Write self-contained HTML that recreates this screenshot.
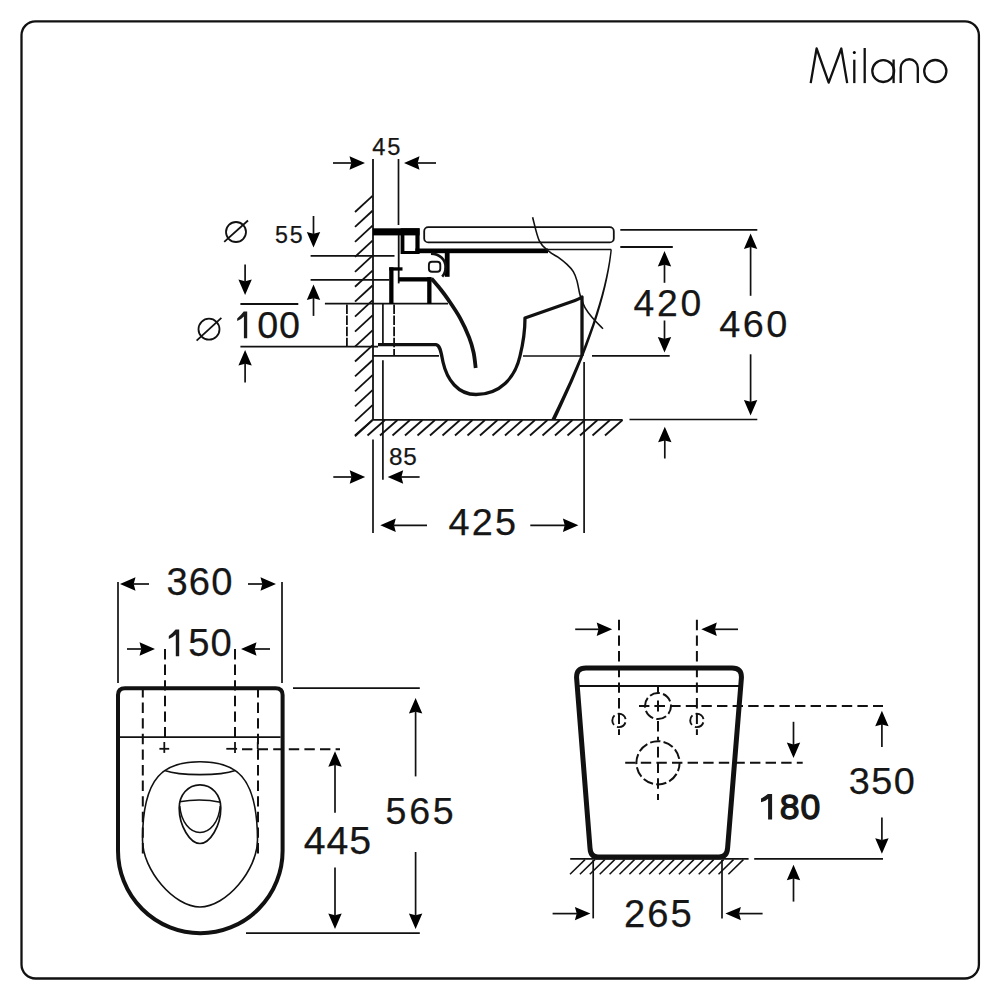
<!DOCTYPE html>
<html><head><meta charset="utf-8"><style>
html,body{margin:0;padding:0;background:#fff;}
body{width:1000px;height:1000px;overflow:hidden;}
svg{display:block;}
text{font-family:"Liberation Sans", sans-serif;fill:#161616;stroke:#161616;stroke-width:0.25px;}
</style></head><body>
<svg width="1000" height="1000" viewBox="0 0 1000 1000" stroke="#111" fill="none" stroke-linecap="butt">
<rect x="21.5" y="21.3" width="957.4" height="957.2" rx="14" ry="14" stroke-width="2.3" fill="none"/>
<path d="M810.7 83.1 L816.6 48.5 L828.7 82.6 L841.3 48.5 L847.2 83.1" stroke-width="2.3" fill="none" stroke-linejoin="round"/>
<line x1="854.3" y1="59.7" x2="854.3" y2="83.1" stroke-width="2.3"/>
<circle cx="854.3" cy="52.6" r="1.5" fill="#000" stroke="none"/>
<line x1="864.7" y1="48" x2="864.7" y2="83.1" stroke-width="2.3"/>
<circle cx="883.2" cy="71.1" r="10.9" stroke-width="2.3" fill="none"/>
<line x1="893.6" y1="59.5" x2="893.6" y2="83.1" stroke-width="2.3"/>
<path d="M900.7 83.1 L900.7 67.8 A8.5 8.5 0 0 1 917.8 67.8 L917.8 83.1" stroke-width="2.3" fill="none"/>
<circle cx="935.3" cy="71.1" r="11.1" stroke-width="2.3" fill="none"/>
<line x1="373" y1="159" x2="373" y2="420" stroke-width="1.8"/>
<line x1="373" y1="439.5" x2="373" y2="533.1" stroke-width="1.7"/>
<line x1="398.5" y1="159" x2="398.5" y2="225" stroke-width="1.7"/>
<path d="M365 163 L349.5 156.3 L351.3 163 L349.5 169.7 Z" fill="#000" stroke="none"/>
<line x1="333" y1="163" x2="352.3" y2="163" stroke-width="1.7"/>
<path d="M404 163 L419.5 156.3 L417.7 163 L419.5 169.7 Z" fill="#000" stroke="none"/>
<line x1="436" y1="163" x2="416.7" y2="163" stroke-width="1.7"/>
<text x="372.36" y="154.57" font-size="23.65" letter-spacing="1.63">45</text>
<line x1="355" y1="212.0" x2="372.5" y2="195.8" stroke-width="1.8"/>
<line x1="355" y1="226.95" x2="372.5" y2="210.75" stroke-width="1.8"/>
<line x1="355" y1="241.9" x2="372.5" y2="225.7" stroke-width="1.8"/>
<line x1="355" y1="256.85" x2="372.5" y2="240.65" stroke-width="1.8"/>
<line x1="355" y1="271.8" x2="372.5" y2="255.6" stroke-width="1.8"/>
<line x1="355" y1="286.75" x2="372.5" y2="270.55" stroke-width="1.8"/>
<line x1="355" y1="301.7" x2="372.5" y2="285.5" stroke-width="1.8"/>
<line x1="355" y1="316.65" x2="372.5" y2="300.45" stroke-width="1.8"/>
<line x1="355" y1="331.6" x2="372.5" y2="315.4" stroke-width="1.8"/>
<line x1="355" y1="346.55" x2="372.5" y2="330.35" stroke-width="1.8"/>
<line x1="355" y1="361.5" x2="372.5" y2="345.3" stroke-width="1.8"/>
<line x1="355" y1="376.45" x2="372.5" y2="360.25" stroke-width="1.8"/>
<line x1="355" y1="391.4" x2="372.5" y2="375.2" stroke-width="1.8"/>
<line x1="355" y1="406.35" x2="372.5" y2="390.15" stroke-width="1.8"/>
<line x1="355" y1="421.3" x2="372.5" y2="405.1" stroke-width="1.8"/>
<line x1="355" y1="436.25" x2="372.5" y2="420.05" stroke-width="1.8"/>
<line x1="373" y1="419.8" x2="622.6" y2="419.8" stroke-width="1.8"/>
<line x1="355.0" y1="435.5" x2="372.5" y2="420" stroke-width="1.8"/>
<line x1="367.5" y1="435.5" x2="385.0" y2="420" stroke-width="1.8"/>
<line x1="380.0" y1="435.5" x2="397.5" y2="420" stroke-width="1.8"/>
<line x1="392.5" y1="435.5" x2="410.0" y2="420" stroke-width="1.8"/>
<line x1="405.0" y1="435.5" x2="422.5" y2="420" stroke-width="1.8"/>
<line x1="417.5" y1="435.5" x2="435.0" y2="420" stroke-width="1.8"/>
<line x1="430.0" y1="435.5" x2="447.5" y2="420" stroke-width="1.8"/>
<line x1="442.5" y1="435.5" x2="460.0" y2="420" stroke-width="1.8"/>
<line x1="455.0" y1="435.5" x2="472.5" y2="420" stroke-width="1.8"/>
<line x1="467.5" y1="435.5" x2="485.0" y2="420" stroke-width="1.8"/>
<line x1="480.0" y1="435.5" x2="497.5" y2="420" stroke-width="1.8"/>
<line x1="492.5" y1="435.5" x2="510.0" y2="420" stroke-width="1.8"/>
<line x1="505.0" y1="435.5" x2="522.5" y2="420" stroke-width="1.8"/>
<line x1="517.5" y1="435.5" x2="535.0" y2="420" stroke-width="1.8"/>
<line x1="530.0" y1="435.5" x2="547.5" y2="420" stroke-width="1.8"/>
<line x1="542.5" y1="435.5" x2="560.0" y2="420" stroke-width="1.8"/>
<line x1="555.0" y1="435.5" x2="572.5" y2="420" stroke-width="1.8"/>
<line x1="567.5" y1="435.5" x2="585.0" y2="420" stroke-width="1.8"/>
<line x1="580.0" y1="435.5" x2="597.5" y2="420" stroke-width="1.8"/>
<line x1="592.5" y1="435.5" x2="610.0" y2="420" stroke-width="1.8"/>
<line x1="605.0" y1="435.5" x2="622.5" y2="420" stroke-width="1.8"/>
<line x1="629.5" y1="419.5" x2="757.3" y2="419.5" stroke-width="1.7"/>
<rect x="424.2" y="227.2" width="189.6" height="15.2" rx="4" ry="4" stroke-width="1.8" fill="none"/>
<rect x="373" y="228.3" width="46.60" height="7.10" fill="#000" stroke="none"/>
<path d="M400.6 228.3 H419.6 V254 H400.6 Z M404.4 233 V251.1 H415.4 V233 Z" fill="#000" stroke="none" fill-rule="evenodd"/>
<rect x="415.4" y="248.5" width="132.60" height="4.70" fill="#000" stroke="none"/>
<line x1="547" y1="249.5" x2="611.2" y2="249.5" stroke-width="1.7"/>
<line x1="398.7" y1="235" x2="398.7" y2="283.4" stroke-width="1.8"/>
<line x1="310.6" y1="255.9" x2="394.5" y2="255.9" stroke-width="1.7"/>
<line x1="310.6" y1="279.9" x2="389.2" y2="279.9" stroke-width="1.7"/>
<line x1="240.4" y1="304" x2="298.3" y2="304" stroke-width="1.8"/>
<line x1="324.9" y1="303.7" x2="448" y2="303.7" stroke-width="1.8"/>
<line x1="240.4" y1="346.7" x2="378" y2="346.7" stroke-width="1.8"/>
<line x1="372.8" y1="355.9" x2="439" y2="355.9" stroke-width="1.7"/>
<line x1="523" y1="356" x2="582" y2="356" stroke-width="1.7"/>
<line x1="592" y1="355.8" x2="669.7" y2="355.8" stroke-width="1.7"/>
<rect x="389.2" y="267.3" width="13.30" height="3.30" fill="#000" stroke="none"/>
<rect x="389.2" y="267.3" width="4.30" height="36.50" fill="#000" stroke="none"/>
<rect x="398.7" y="277.2" width="32.80" height="4.30" fill="#000" stroke="none"/>
<rect x="427.2" y="277.2" width="4.30" height="26.60" fill="#000" stroke="none"/>
<rect x="444.8" y="253" width="4.80" height="23.80" fill="#000" stroke="none"/>
<path d="M431 253.6 C440 253.8 445.6 260 445.6 267 C445.6 271 444.6 274 442.2 276.6" stroke-width="2.6" fill="none"/>
<rect x="428.9" y="261.8" width="11.4" height="10" rx="3" ry="3" stroke-width="1.9" fill="none"/>
<path d="M431.5 278.5 C432.92 280.18 437.18 285.03 440 288.6 C442.82 292.17 445.05 294.98 448.4 299.9 C451.75 304.82 456.63 311.82 460.1 318.1 C463.57 324.38 466.95 331.87 469.2 337.6 C471.45 343.33 472.52 347.43 473.6 352.5 C474.68 357.57 475.35 365.42 475.7 368" stroke-width="3.8" fill="none"/>
<path d="M378 344.7 L436 344.7 C440 345 441 352 443 362 C447 380 458 394.5 476 394.5 C500 394.5 515 378 520 356 C523.5 342 525 328 525 318 L575 300.5 Q579 299 582 297 L582 356" stroke-width="3.3" fill="none" stroke-linejoin="round"/>
<line x1="346.9" y1="303.5" x2="346.9" y2="346.7" stroke-width="1.8" stroke-dasharray="9.5 1.6" stroke-dashoffset="-1"/>
<line x1="394.1" y1="303.5" x2="394.1" y2="355.5" stroke-width="1.8" stroke-dasharray="9.5 1.6" stroke-dashoffset="-1"/>
<line x1="382.9" y1="303.5" x2="382.9" y2="344" stroke-width="1.7"/>
<line x1="382.9" y1="360.2" x2="382.9" y2="479.7" stroke-width="1.7"/>
<path d="M610.5 249.5 L611.9 249.5 C607.9 290 591.5 345 555.4 419.8 L551.2 419.8 C588.5 345 606.1 290 610.5 249.5 Z" fill="#111" stroke="none"/>
<path d="M532.6 217.2 C533.72 221.13 536.57 235.10 539.3 240.8 C542.03 246.50 545.88 248.67 549 251.4 C552.12 254.13 555.00 255.03 558 257.2 C561.00 259.37 564.45 262.00 567 264.4 C569.55 266.80 571.65 268.90 573.3 271.6 C574.95 274.30 575.85 277.00 576.9 280.6 C577.95 284.20 578.85 290.20 579.6 293.2 C580.35 296.20 580.50 296.20 581.4 298.6 C582.30 301.00 583.20 304.45 585 307.6 C586.80 310.75 589.20 313.97 592.2 317.5 C595.20 321.03 601.20 326.92 603 328.8" stroke-width="1.6" fill="none"/>
<circle cx="236" cy="232" r="10" stroke-width="1.8" fill="none"/>
<line x1="224.2" y1="241.8" x2="248" y2="220.5" stroke-width="1.8"/>
<circle cx="209" cy="329.2" r="10.5" stroke-width="1.8" fill="none"/>
<line x1="196.6" y1="340.6" x2="221.4" y2="317.8" stroke-width="1.8"/>
<text x="274.97" y="243.47" font-size="23.22" letter-spacing="1.78">55</text>
<path d="M313.5 247.5 L306.8 232.0 L313.5 233.8 L320.2 232.0 Z" fill="#000" stroke="none"/>
<line x1="313.5" y1="216" x2="313.5" y2="234.8" stroke-width="1.7"/>
<path d="M313.5 284.6 L306.8 300.1 L313.5 298.3 L320.2 300.1 Z" fill="#000" stroke="none"/>
<line x1="313.5" y1="315.9" x2="313.5" y2="297.3" stroke-width="1.7"/>
<path d="M245.1 295 L238.4 279.5 L245.1 281.3 L251.79999999999998 279.5 Z" fill="#000" stroke="none"/>
<line x1="245.1" y1="264.6" x2="245.1" y2="282.3" stroke-width="1.7"/>
<path d="M245.1 350.1 L238.4 365.6 L245.1 363.8 L251.79999999999998 365.6 Z" fill="#000" stroke="none"/>
<line x1="245.1" y1="382.4" x2="245.1" y2="362.8" stroke-width="1.7"/>
<text x="257.13" y="337.83" font-size="37.71" letter-spacing="1.00">00</text>
<path d="M247.20 311.50 L247.20 338.20 L243.90 338.20 L243.90 316.57 Q241.35 319.54 237.20 320.90 L237.20 318.60 Q240.55 315.58 243.70 311.50 Z" fill="#1a1a1a" stroke="none"/>
<line x1="620.3" y1="229.8" x2="757.3" y2="229.8" stroke-width="1.8"/>
<line x1="620.3" y1="247.0" x2="672.8" y2="247.0" stroke-width="1.8"/>
<path d="M664.5 251.1 L657.8 266.6 L664.5 264.8 L671.2 266.6 Z" fill="#000" stroke="none"/>
<line x1="664.5" y1="282.8" x2="664.5" y2="263.8" stroke-width="1.7"/>
<path d="M664.5 352.5 L657.8 337.0 L664.5 338.8 L671.2 337.0 Z" fill="#000" stroke="none"/>
<line x1="664.5" y1="320.5" x2="664.5" y2="339.8" stroke-width="1.7"/>
<text x="633.54" y="315.84" font-size="37.29" letter-spacing="2.75">420</text>
<path d="M750.6 233.4 L743.9 248.9 L750.6 247.1 L757.3000000000001 248.9 Z" fill="#000" stroke="none"/>
<line x1="750.6" y1="295.8" x2="750.6" y2="246.1" stroke-width="1.7"/>
<path d="M750.6 415.4 L743.9 399.9 L750.6 401.7 L757.3000000000001 399.9 Z" fill="#000" stroke="none"/>
<line x1="750.6" y1="354.3" x2="750.6" y2="402.7" stroke-width="1.7"/>
<text x="719.33" y="337.13" font-size="37.85" letter-spacing="2.40">460</text>
<path d="M664.8 426.8 L658.0999999999999 442.3 L664.8 440.5 L671.5 442.3 Z" fill="#000" stroke="none"/>
<line x1="664.8" y1="458.5" x2="664.8" y2="439.5" stroke-width="1.7"/>
<path d="M365.2 477 L349.7 470.3 L351.5 477 L349.7 483.7 Z" fill="#000" stroke="none"/>
<line x1="333.3" y1="477" x2="352.5" y2="477" stroke-width="1.7"/>
<path d="M387.7 477 L403.2 470.3 L401.4 477 L403.2 483.7 Z" fill="#000" stroke="none"/>
<line x1="419.6" y1="477" x2="400.4" y2="477" stroke-width="1.7"/>
<text x="389.04" y="465.26" font-size="24.29" letter-spacing="0.65">85</text>
<line x1="584.1" y1="362" x2="584.1" y2="533.1" stroke-width="1.7"/>
<path d="M380.3 525.3 L395.8 518.5999999999999 L394.0 525.3 L395.8 532.0 Z" fill="#000" stroke="none"/>
<line x1="427" y1="525.3" x2="393.0" y2="525.3" stroke-width="1.7"/>
<path d="M578.4 525.3 L562.9 518.5999999999999 L564.6999999999999 525.3 L562.9 532.0 Z" fill="#000" stroke="none"/>
<line x1="530.3" y1="525.3" x2="565.6999999999999" y2="525.3" stroke-width="1.7"/>
<text x="448.43" y="535.33" font-size="37.85" letter-spacing="2.20">425</text>
<line x1="118" y1="582" x2="118" y2="683" stroke-width="1.7"/>
<line x1="282" y1="582" x2="282" y2="683" stroke-width="1.7"/>
<path d="M120 584 L135.5 577.3 L133.7 584 L135.5 590.7 Z" fill="#000" stroke="none"/>
<line x1="149" y1="584" x2="132.7" y2="584" stroke-width="1.7"/>
<path d="M276 584 L260.5 577.3 L262.3 584 L260.5 590.7 Z" fill="#000" stroke="none"/>
<line x1="248" y1="584" x2="263.3" y2="584" stroke-width="1.7"/>
<text x="166.45" y="594.53" font-size="38.14" letter-spacing="1.16">360</text>
<path d="M155 649 L139.5 642.3 L141.3 649 L139.5 655.7 Z" fill="#000" stroke="none"/>
<line x1="127" y1="649" x2="142.3" y2="649" stroke-width="1.7"/>
<path d="M241 649 L256.5 642.3 L254.7 649 L256.5 655.7 Z" fill="#000" stroke="none"/>
<line x1="270" y1="649" x2="253.7" y2="649" stroke-width="1.7"/>
<text x="188.27" y="656.13" font-size="38.14" letter-spacing="1.00">50</text>
<path d="M179.20 629.40 L179.20 656.20 L175.80 656.20 L175.80 634.49 Q173.10 637.50 168.80 638.90 L168.80 636.00 Q172.30 633.24 175.60 629.40 Z" fill="#1a1a1a" stroke="none"/>
<line x1="165" y1="649" x2="165" y2="742" stroke-width="2.0" stroke-dasharray="10.4 5.2" stroke-dashoffset="0"/>
<line x1="235" y1="649" x2="235" y2="742" stroke-width="2.0" stroke-dasharray="10.4 5.2" stroke-dashoffset="0"/>
<path d="M118 850.7 L118 695 Q118 688.2 125 688.2 L275.6 688.2 Q282.6 688.2 282.6 695 L282.6 850.7 A82.3 82.5 0 0 1 118 850.7 Z" stroke-width="4.0" fill="none"/>
<line x1="119" y1="737.2" x2="280.6" y2="737.2" stroke-width="1.8"/>
<line x1="142.8" y1="690" x2="142.8" y2="857.6" stroke-width="2.0" stroke-dasharray="10.4 5.2" stroke-dashoffset="3"/>
<line x1="258" y1="690" x2="258" y2="857.6" stroke-width="2.0" stroke-dasharray="10.4 5.2" stroke-dashoffset="3"/>
<line x1="159.4" y1="748.8" x2="169.2" y2="748.8" stroke-width="1.8"/>
<line x1="164.3" y1="742" x2="164.3" y2="752.9" stroke-width="1.8"/>
<line x1="226.3" y1="748.8" x2="237.1" y2="748.8" stroke-width="1.8"/>
<line x1="235" y1="742" x2="235" y2="752.9" stroke-width="1.8"/>
<line x1="242" y1="749.2" x2="340" y2="749.2" stroke-width="2.0" stroke-dasharray="10.4 5.2" stroke-dashoffset="0"/>
<line x1="257.7" y1="742" x2="257.7" y2="749.2" stroke-width="1.7"/>
<path d="M200 761.7 C235 761.7 257.5 775 257.5 840 C257.5 870 226 907 200 907 C174 907 142.5 870 142.5 840 C142.5 775 165 761.7 200 761.7 Z" stroke-width="1.6" fill="none"/>
<path d="M164.6 770.5 C180 776 220 776 235.4 770.5" stroke-width="1.6" fill="none"/>
<path d="M200 784.8 C212 784.8 220.8 795 220.8 808 C220.8 826 210 843.5 200 843.5 C190 843.5 179.2 826 179.2 808 C179.2 795 188 784.8 200 784.8 Z" stroke-width="1.7" fill="none"/>
<path d="M179.5 801.8 C192 799.5 208 799.5 220.5 802.3" stroke-width="1.5" fill="none"/>
<path d="M179.8 806 C181 822 190 832.4 200 832.4 C210 832.4 219 822 220.2 806" stroke-width="1.5" fill="none"/>
<line x1="293" y1="688.2" x2="419.8" y2="688.2" stroke-width="1.8"/>
<line x1="246" y1="933.2" x2="419.8" y2="933.2" stroke-width="1.8"/>
<path d="M335 751.2 L328.3 766.7 L335 764.9000000000001 L341.7 766.7 Z" fill="#000" stroke="none"/>
<line x1="335" y1="812.8" x2="335" y2="763.9000000000001" stroke-width="1.7"/>
<path d="M335 929 L328.3 913.5 L335 915.3 L341.7 913.5 Z" fill="#000" stroke="none"/>
<line x1="335" y1="867.4" x2="335" y2="916.3" stroke-width="1.7"/>
<text x="303.80" y="853.92" font-size="39.27" letter-spacing="0.92">445</text>
<path d="M415.6 698 L408.90000000000003 713.5 L415.6 711.7 L422.3 713.5 Z" fill="#000" stroke="none"/>
<line x1="415.6" y1="776.4" x2="415.6" y2="710.7" stroke-width="1.7"/>
<path d="M415.6 929 L408.90000000000003 913.5 L415.6 915.3 L422.3 913.5 Z" fill="#000" stroke="none"/>
<line x1="415.6" y1="852" x2="415.6" y2="916.3" stroke-width="1.7"/>
<text x="385.60" y="824.23" font-size="37.57" letter-spacing="2.65">565</text>
<line x1="619" y1="619.8" x2="619" y2="735" stroke-width="2.0" stroke-dasharray="10.4 5.25" stroke-dashoffset="0"/>
<line x1="696.9" y1="619.8" x2="696.9" y2="735" stroke-width="2.0" stroke-dasharray="10.4 5.25" stroke-dashoffset="0"/>
<path d="M612.2 629.3 L596.7 622.5999999999999 L598.5 629.3 L596.7 636.0 Z" fill="#000" stroke="none"/>
<line x1="575.2" y1="629.3" x2="599.5" y2="629.3" stroke-width="1.7"/>
<path d="M701.3 629.3 L716.8 622.5999999999999 L715.0 629.3 L716.8 636.0 Z" fill="#000" stroke="none"/>
<line x1="738" y1="629.3" x2="714.0" y2="629.3" stroke-width="1.7"/>
<path d="M586 668 L732 668 Q742 668 741.4 678 L727.6 848 Q727 857 719 857 L598 857 Q590.5 857 590 848 L576.6 678 Q576 668 586 668 Z" stroke-width="5.0" fill="none"/>
<line x1="579" y1="686" x2="739" y2="686" stroke-width="1.8"/>
<circle cx="658" cy="706" r="13" stroke-width="2" fill="none" stroke-dasharray="10.4 3.2" stroke-dashoffset="2"/>
<circle cx="658" cy="762.8" r="21.6" stroke-width="2" fill="none" stroke-dasharray="10.4 3.2" stroke-dashoffset="2"/>
<circle cx="619" cy="720.4" r="6.7" stroke-width="1.9" fill="none" stroke-dasharray="10.5 3.5" stroke-dashoffset="-2"/>
<circle cx="696.9" cy="720.4" r="6.7" stroke-width="1.9" fill="none" stroke-dasharray="10.5 3.5" stroke-dashoffset="-2"/>
<line x1="658" y1="686" x2="658" y2="693.2" stroke-width="2.0"/>
<line x1="654.6" y1="706" x2="665" y2="706" stroke-width="2.0"/>
<line x1="658" y1="700.4" x2="658" y2="711.4" stroke-width="2.0"/>
<line x1="658" y1="746.8" x2="658" y2="800" stroke-width="2.0" stroke-dasharray="10.6 5.1" stroke-dashoffset="0"/>
<line x1="658" y1="720" x2="658" y2="740.4" stroke-width="2.0" stroke-dasharray="10.6 5.1" stroke-dashoffset="-1"/>
<line x1="639" y1="706" x2="883" y2="706" stroke-width="2.0" stroke-dasharray="10.4 5.2" stroke-dashoffset="0"/>
<line x1="625.2" y1="762.8" x2="802.7" y2="762.8" stroke-width="2.0" stroke-dasharray="10.4 5.2" stroke-dashoffset="0"/>
<line x1="570.2" y1="858.8" x2="748.6" y2="858.8" stroke-width="1.8"/>
<line x1="754.2" y1="858.9" x2="883" y2="858.9" stroke-width="1.8"/>
<line x1="570.0" y1="874.2" x2="585.0" y2="859.6" stroke-width="1.5"/>
<line x1="579.9" y1="874.2" x2="594.9" y2="859.6" stroke-width="1.5"/>
<line x1="589.8" y1="874.2" x2="604.8" y2="859.6" stroke-width="1.5"/>
<line x1="599.7" y1="874.2" x2="614.7" y2="859.6" stroke-width="1.5"/>
<line x1="609.6" y1="874.2" x2="624.6" y2="859.6" stroke-width="1.5"/>
<line x1="619.5" y1="874.2" x2="634.5" y2="859.6" stroke-width="1.5"/>
<line x1="629.4" y1="874.2" x2="644.4" y2="859.6" stroke-width="1.5"/>
<line x1="639.3" y1="874.2" x2="654.3" y2="859.6" stroke-width="1.5"/>
<line x1="649.2" y1="874.2" x2="664.2" y2="859.6" stroke-width="1.5"/>
<line x1="659.1" y1="874.2" x2="674.1" y2="859.6" stroke-width="1.5"/>
<line x1="669.0" y1="874.2" x2="684.0" y2="859.6" stroke-width="1.5"/>
<line x1="678.9" y1="874.2" x2="693.9" y2="859.6" stroke-width="1.5"/>
<line x1="688.8" y1="874.2" x2="703.8" y2="859.6" stroke-width="1.5"/>
<line x1="698.7" y1="874.2" x2="713.7" y2="859.6" stroke-width="1.5"/>
<line x1="708.6" y1="874.2" x2="723.6" y2="859.6" stroke-width="1.5"/>
<line x1="718.5" y1="874.2" x2="733.5" y2="859.6" stroke-width="1.5"/>
<line x1="728.4" y1="874.2" x2="743.4" y2="859.6" stroke-width="1.5"/>
<line x1="593.2" y1="860" x2="593.2" y2="918.4" stroke-width="1.7"/>
<line x1="722" y1="860" x2="722" y2="918.4" stroke-width="1.7"/>
<path d="M590.4 913.6 L574.9 906.9 L576.6999999999999 913.6 L574.9 920.3000000000001 Z" fill="#000" stroke="none"/>
<line x1="552.6" y1="913.6" x2="577.6999999999999" y2="913.6" stroke-width="1.7"/>
<path d="M725.4 913.6 L740.9 906.9 L739.1 913.6 L740.9 920.3000000000001 Z" fill="#000" stroke="none"/>
<line x1="762.6" y1="913.6" x2="738.1" y2="913.6" stroke-width="1.7"/>
<text x="623.98" y="927.13" font-size="38.14" letter-spacing="2.05">265</text>
<path d="M793.5 758.1 L786.8 742.6 L793.5 744.4 L800.2 742.6 Z" fill="#000" stroke="none"/>
<line x1="793.5" y1="721.8" x2="793.5" y2="745.4" stroke-width="1.7"/>
<path d="M793.5 864.8 L786.8 880.3 L793.5 878.5 L800.2 880.3 Z" fill="#000" stroke="none"/>
<line x1="793.5" y1="901.6" x2="793.5" y2="877.5" stroke-width="1.7"/>
<text x="779.85" y="819.15" font-size="35.59" letter-spacing="0.85" style="stroke-width:1.3px">80</text>
<path d="M772.10 793.90 L772.10 819.60 L768.10 819.60 L768.10 798.78 Q765.32 801.26 761.00 802.20 L761.00 798.40 Q764.55 796.66 767.90 793.90 Z" fill="#1a1a1a" stroke="none"/>
<path d="M881.9 710.8 L875.1999999999999 726.3 L881.9 724.5 L888.6 726.3 Z" fill="#000" stroke="none"/>
<line x1="881.9" y1="747.1" x2="881.9" y2="723.5" stroke-width="1.7"/>
<path d="M881.9 853.8 L875.1999999999999 838.3 L881.9 840.0999999999999 L888.6 838.3 Z" fill="#000" stroke="none"/>
<line x1="881.9" y1="817.5" x2="881.9" y2="841.0999999999999" stroke-width="1.7"/>
<text x="848.76" y="793.63" font-size="37.85" letter-spacing="1.43">350</text>
</svg>
</body></html>
